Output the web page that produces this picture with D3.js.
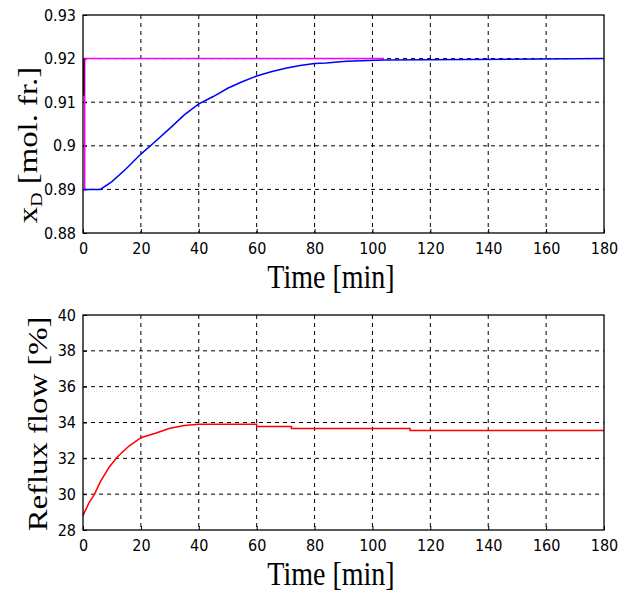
<!DOCTYPE html>
<meta charset="utf-8">
<style>
body { margin: 0; background: #fff; }
.tick text { font-family: "DejaVu Sans Condensed", "Liberation Sans Narrow", "Liberation Sans", sans-serif; font-size: 16px; fill: #000; }
.label { font-family: "Liberation Serif", "Times New Roman", serif; font-size: 28px; fill: #000; }
.grid line { stroke: #000; stroke-width: 1; stroke-dasharray: 4,4; }
.frame { fill: none; stroke: #000; stroke-width: 1.3; }
</style>
<body>
<div id="chart"></div>
</body>
<script src="https://d3js.org/d3.v7.min.js"></script>
<script>

var width = 626,
    height = 593,
    stretch = 1.17; // labels in the original look stretched vertically

// top panel: x_D
var xdTicksX = [0, 20, 40, 60, 80, 100, 120, 140, 160, 180];
var xdTicksY = [0.88, 0.89, 0.9, 0.91, 0.92, 0.93];
var setpointTime = [0, 0.6, 0.6, 104];
var setpointVal  = [0.89, 0.89, 0.92, 0.92];
var darkTime = [0.3, 0.3];
var darkVal  = [0.9115, 0.92];
var xdTime = [0, 6, 10, 15, 20, 24, 30, 35, 40, 45, 50, 55, 60, 65, 70, 75, 80, 84, 91, 104, 180];
var xdVal  = [0.89, 0.89, 0.8918, 0.8948, 0.8981, 0.9004, 0.904, 0.9071, 0.9096, 0.9113, 0.9132, 0.9147, 0.916, 0.917, 0.9178, 0.9184, 0.9189, 0.9190, 0.9194, 0.9197, 0.92];

// bottom panel: reflux flow
var refTicksY = [28, 30, 32, 34, 36, 38, 40];
var refTime = [0, 2, 4, 6, 9, 12, 16, 20, 25, 30, 35, 40, 50, 60, 60, 72, 72, 113, 113, 180];
var refVal  = [28.8, 29.5, 30.0, 30.7, 31.5, 32.1, 32.7, 33.15, 33.4, 33.68, 33.83, 33.9, 33.9, 33.9, 33.77, 33.77, 33.66, 33.66, 33.55, 33.55];

var svg = d3.select("#chart").append("svg")
    .attr("width", width)
    .attr("height", height);

function panel(opts) {
  var x = d3.scaleLinear().domain([0, 180]).range([opts.left, opts.right]);
  var y = d3.scaleLinear().domain(opts.yDomain).range([opts.bottom, opts.top]);
  var g = svg.append("g");

  // grid
  var grid = g.append("g").attr("class", "grid");
  grid.selectAll(".gx")
    .data(xdTicksX.slice(1, -1))
    .enter().append("line")
    .attr("x1", function(d) { return x(d); })
    .attr("x2", function(d) { return x(d); })
    .attr("y1", opts.top)
    .attr("y2", opts.bottom);
  grid.selectAll(".gy")
    .data(opts.yTicks.slice(1, -1))
    .enter().append("line")
    .attr("x1", opts.left)
    .attr("x2", opts.right)
    .attr("y1", function(d) { return y(d); })
    .attr("y2", function(d) { return y(d); });

  // axes (ticks inward like matlab)
  var xAxis = g.append("g")
    .attr("transform", "translate(0," + opts.bottom + ")")
    .call(d3.axisBottom(x).tickValues(xdTicksX).tickSizeInner(-4).tickSizeOuter(0).tickPadding(7)
      .tickFormat(d3.format("d")));
  var yAxis = g.append("g")
    .attr("transform", "translate(" + opts.left + ",0)")
    .call(d3.axisLeft(y).tickValues(opts.yTicks).tickSizeInner(-4).tickSizeOuter(0).tickPadding(7)
      .tickFormat(opts.fmt));
  g.selectAll(".domain").remove();
  xAxis.selectAll(".tick line").attr("stroke", "#000");
  yAxis.selectAll(".tick line").attr("stroke", "#000");
  xAxis.selectAll(".tick text").attr("dy", "0.9em");

  // series
  var line = d3.line()
    .x(function(d) { return x(d[0]); })
    .y(function(d) { return y(d[1]); });
  opts.series.forEach(function(s) {
    g.append("path")
      .datum(d3.zip(s.t, s.v))
      .attr("fill", "none")
      .attr("stroke", s.color)
      .attr("stroke-width", 1.5)
      .attr("d", line);
  });

  g.append("rect")
    .attr("class", "frame")
    .attr("x", opts.left)
    .attr("y", opts.top)
    .attr("width", opts.right - opts.left)
    .attr("height", opts.bottom - opts.top);

  g.append("text")
    .attr("class", "label")
    .attr("transform", "translate(331," + (opts.bottom + 55) + ") scale(1," + stretch + ")")
    .attr("text-anchor", "middle")
    .text("Time [min]");

  return g;
}

var topPanel = panel({
  left: 83, right: 604, top: 15, bottom: 233,
  yDomain: [0.88, 0.93], yTicks: xdTicksY,
  fmt: function(d) { return d3.format(".2~f")(d); },
  series: [
    { t: setpointTime, v: setpointVal, color: "#ff00ff" },
    { t: xdTime, v: xdVal, color: "#0000ff" },
    { t: darkTime, v: darkVal, color: "#300030" }
  ]
});

var ylab1 = topPanel.append("text")
  .attr("class", "label")
  .attr("transform", "translate(37,145) rotate(-90) scale(" + stretch + ",1)")
  .attr("text-anchor", "middle");
ylab1.append("tspan").text("x");
ylab1.append("tspan").attr("font-size", "17px").attr("dy", 5).text("D");
ylab1.append("tspan").attr("dy", -5).text(" [mol. fr.]");

var bottomPanel = panel({
  left: 83, right: 604, top: 315, bottom: 530,
  yDomain: [28, 40], yTicks: refTicksY,
  fmt: d3.format("d"),
  series: [
    { t: refTime, v: refVal, color: "#ff0000" }
  ]
});

bottomPanel.append("text")
  .attr("class", "label")
  .attr("transform", "translate(47,424) rotate(-90) scale(" + stretch + ",1)")
  .attr("text-anchor", "middle")
  .text("Reflux flow [%]");

</script>
